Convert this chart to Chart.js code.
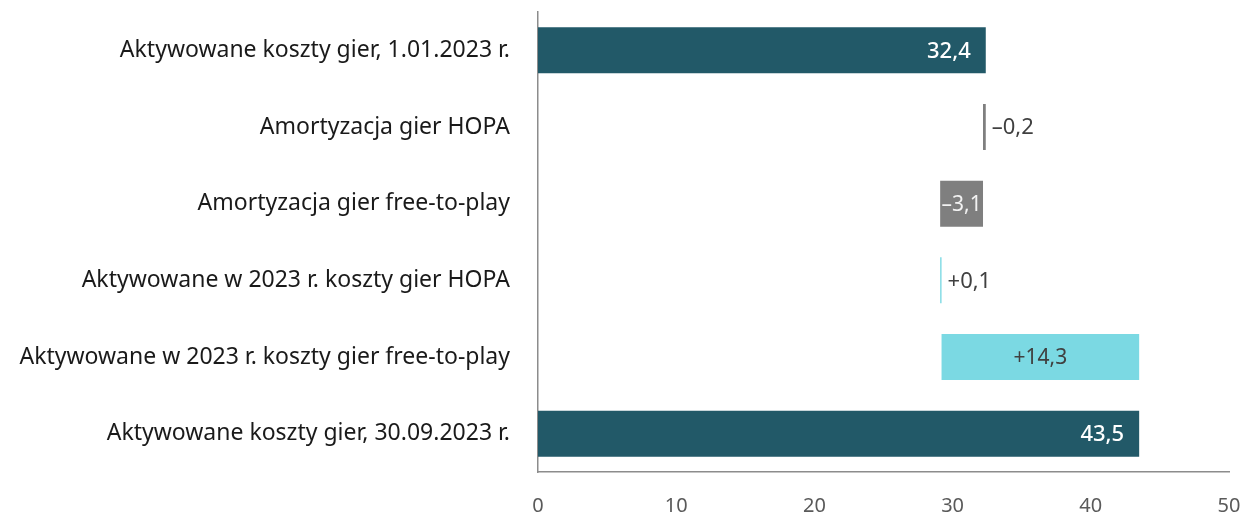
<!DOCTYPE html>
<html>
<head>
<meta charset="utf-8">
<script src="https://cdn.jsdelivr.net/npm/chart.js@4"></script>
<style>
  html, body { margin: 0; padding: 0; background: #fff; }
  #wrap { width: 1243px; height: 514px; position: relative; }
</style>
</head>
<body>
<div id="wrap"><canvas id="myChart"></canvas></div>
<script>
const categories = [
  'Aktywowane koszty gier, 1.01.2023 r.',
  'Amortyzacja gier HOPA',
  'Amortyzacja gier free-to-play',
  'Aktywowane w 2023 r. koszty gier HOPA',
  'Aktywowane w 2023 r. koszty gier free-to-play',
  'Aktywowane koszty gier, 30.09.2023 r.'
];
const values = [32.4, -0.2, -3.1, 0.1, 14.3, 43.5];
const isTotal = [true, false, false, false, false, true];
const xTicks = [0, 10, 20, 30, 40, 50];

const DARK = '#225968';
const GRAY = '#7f7f7f';
const CYAN = '#7bd9e3';
const FONT = '"Noto Sans", sans-serif';

// waterfall ranges from values
let running = 0;
const ranges = values.map((v, i) => {
  if (isTotal[i]) { running = v; return [0, v]; }
  const start = running;
  running = +(running + v).toFixed(2);
  return [Math.min(start, running), Math.max(start, running)];
});
const colors = values.map((v, i) => isTotal[i] ? DARK : (v < 0 ? GRAY : CYAN));

const fmt = (v, i) => {
  const s = Math.abs(v).toFixed(1).replace('.', ',');
  if (isTotal[i]) return s;
  return (v < 0 ? '\u2013' : '+') + s;
};

const valueLabels = {
  id: 'valueLabels',
  afterDatasetsDraw(chart) {
    const ctx = chart.ctx;
    const meta = chart.getDatasetMeta(0);
    ctx.save();
    ctx.textBaseline = 'middle';
    meta.data.forEach((bar, i) => {
      const v = values[i];
      const left = Math.min(bar.x, bar.base);
      const right = Math.max(bar.x, bar.base);
      const txt = fmt(v, i);
      const y = bar.y + 1;
      if (isTotal[i]) {
        ctx.font = '500 22px ' + FONT;
        ctx.fillStyle = '#ffffff';
        ctx.textAlign = 'right';
        ctx.fillText(txt, right - 15, y);
      } else if (right - left > 30) {
        ctx.font = '21px ' + FONT;
        ctx.fillStyle = v < 0 ? '#f2f2f2' : '#404040';
        ctx.textAlign = 'center';
        ctx.fillText(txt, (left + right) / 2, y);
      } else {
        ctx.font = '22px ' + FONT;
        ctx.fillStyle = '#404040';
        ctx.textAlign = 'left';
        ctx.fillText(txt, right + 6, y);
      }
    });
    ctx.restore();
  }
};

new Chart(document.getElementById('myChart'), {
  type: 'bar',
  data: {
    labels: categories,
    datasets: [{
      data: ranges,
      backgroundColor: colors,
      borderWidth: 0,
      barPercentage: 0.6,
      categoryPercentage: 1
    }]
  },
  options: {
    indexAxis: 'y',
    responsive: true,
    maintainAspectRatio: false,
    animation: false,
    layout: { padding: { top: 12, right: 14, left: 0, bottom: 0 } },
    plugins: {
      legend: { display: false },
      tooltip: { enabled: false }
    },
    scales: {
      x: {
        min: 0,
        max: 50,
        afterBuildTicks(scale) { scale.ticks = xTicks.map(v => ({ value: v })); },
        afterFit(scale) {
          scale.height = 42;
          scale.paddingLeft = 0;
          scale.paddingRight = 0;
        },
        grid: { display: false, drawTicks: false },
        border: { display: true, color: '#8c8c8c', width: 1.5 },
        ticks: { color: '#5a5a5a', padding: 22, font: { family: FONT, size: 20 } }
      },
      y: {
        afterFit(scale) {
          scale.width = 538;
          scale.paddingTop = 0;
          scale.paddingBottom = 0;
        },
        grid: { display: false, drawTicks: false },
        border: { display: true, color: '#8c8c8c', width: 1.5 },
        ticks: { color: '#1a1a1a', padding: 28, font: { family: FONT, size: 23 } }
      }
    }
  },
  plugins: [valueLabels]
});
</script>
</body>
</html>
